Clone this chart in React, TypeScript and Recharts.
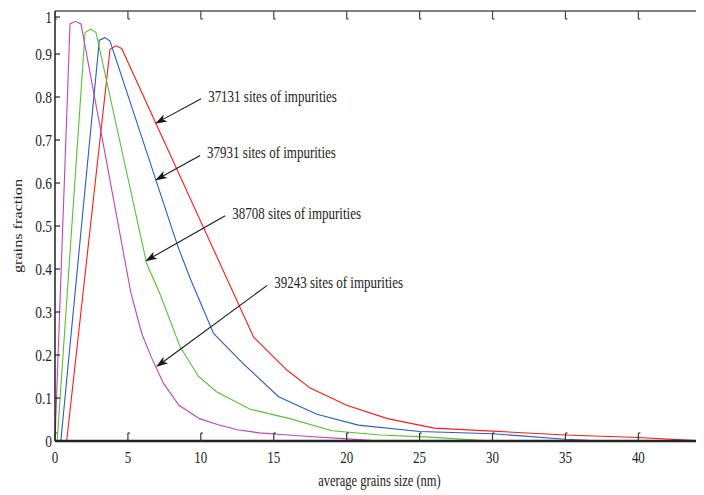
import React from 'react';
import { LineChart, Line, XAxis, YAxis, ReferenceLine } from 'recharts';

const FONT = '"Liberation Serif", "Times New Roman", serif';

const xTicks = [0, 5, 10, 15, 20, 25, 30, 35, 40];
const yTicks = [0, 0.1, 0.2, 0.3, 0.4, 0.5, 0.6, 0.7, 0.8, 0.9, 1];

// [grain size (nm), grains fraction]
const sites37131: [number, number][] = [
  [0, 0], [0.8, 0], [3.77, 0.911], [4.19, 0.919], [4.57, 0.913], [13.61, 0.242],
  [15.9, 0.165], [17.5, 0.123], [20, 0.083], [22.8, 0.052], [26, 0.03], [30, 0.023],
  [35, 0.014], [40, 0.008], [44.4, 0],
];
const sites37931: [number, number][] = [
  [0, 0], [0.4, 0], [3.04, 0.932], [3.43, 0.938], [3.77, 0.93], [8.4, 0.455],
  [9.27, 0.378], [10.87, 0.25], [12.9, 0.18], [15.33, 0.103], [17.96, 0.062],
  [20.8, 0.037], [25, 0.022], [30, 0.017], [35, 0.004], [37.5, 0],
];
const sites38708: [number, number][] = [
  [0, 0], [0.15, 0], [2.06, 0.95], [2.45, 0.958], [2.81, 0.95], [6.29, 0.412],
  [7.2, 0.342], [8.58, 0.219], [9.84, 0.15], [11.1, 0.114], [13.38, 0.074],
  [16.1, 0.052], [19, 0.024], [22.3, 0.014], [25.7, 0.009], [29.9, 0],
];
const sites39243: [number, number][] = [
  [0, 0], [1.03, 0.97], [1.42, 0.976], [1.78, 0.97], [5.2, 0.345], [5.95, 0.25],
  [6.6, 0.195], [7.44, 0.134], [8.5, 0.083], [9.9, 0.052], [11.2, 0.038],
  [12.5, 0.026], [14, 0.019], [15.5, 0.015], [17.7, 0.01], [20, 0.005], [22.3, 0],
];

const annotations = [
  { label: '37131 sites of impurities', from: [10.02, 0.796], to: [6.86, 0.738] },
  { label: '37931 sites of impurities', from: [9.95, 0.664], to: [6.86, 0.606] },
  { label: '38708 sites of impurities', from: [11.67, 0.524], to: [6.18, 0.418] },
  { label: '39243 sites of impurities', from: [14.55, 0.362], to: [6.93, 0.172] },
];

const toRows = (pts: [number, number][]) => pts.map(([x, y]) => ({ x, y }));

const series = [
  { name: '37131', data: toRows(sites37131), color: '#ff1a1a' },
  { name: '37931', data: toRows(sites37931), color: '#2a5cc4' },
  { name: '38708', data: toRows(sites38708), color: '#55c034' },
  { name: '39243', data: toRows(sites39243), color: '#c443b0' },
];

const STRETCH = 1.3;

const BottomTick = (p: any) => {
  const { x, y, payload } = p;
  return (
    <g>
      <line x1={x} y1={y} x2={x} y2={y - 8} stroke="#333" strokeWidth={1.2} />
      <line x1={x} y1={y - 8} x2={x + 2} y2={y - 8} stroke="#333" strokeWidth={1.2} />
      <text
        transform={`translate(${x},${y + 16}) scale(1,${STRETCH})`}
        textAnchor="middle"
        dy="0.35em"
        fontSize={13}
        fontFamily={FONT}
        fill="#222"
      >
        {payload.value}
      </text>
    </g>
  );
};

const TopTick = (p: any) => {
  const { x, y } = p;
  return (
    <g>
      <line x1={x} y1={y} x2={x} y2={y + 8} stroke="#444" strokeWidth={1.2} />
      <line x1={x} y1={y + 8} x2={x + 2} y2={y + 8} stroke="#444" strokeWidth={1.2} />
    </g>
  );
};

const LeftTick = (p: any) => {
  const { x, y, payload } = p;
  return (
    <g>
      <line x1={x} y1={y} x2={x + 5} y2={y} stroke="#222" strokeWidth={1.2} />
      <text
        transform={`translate(${x - 3},${y}) scale(1,${STRETCH})`}
        textAnchor="end"
        dy="0.35em"
        fontSize={13.5}
        fontFamily={FONT}
        fill="#222"
      >
        {payload.value}
      </text>
    </g>
  );
};

const XTitle = (p: any) => {
  const vb = p.viewBox || {};
  return (
    <text
      transform={`translate(${vb.x + vb.width / 2},${vb.y + 39}) scale(1,${STRETCH})`}
      textAnchor="middle"
      dy="0.35em"
      fontSize={12.5}
      fontFamily={FONT}
      fill="#222"
    >
      average grains size (nm)
    </text>
  );
};

const YTitle = (p: any) => {
  const vb = p.viewBox || {};
  return (
    <text
      transform={`translate(${vb.x + 10},${vb.y + vb.height / 2}) scale(1,${STRETCH}) rotate(-90)`}
      textAnchor="middle"
      dy="0.35em"
      fontSize={12.5}
      fontFamily={FONT}
      fill="#222"
    >
      grains fraction
    </text>
  );
};

const makeArrow = (label: string) => (p: any) => {
  const { x1, y1, x2, y2 } = p;
  const dx = x2 - x1;
  const dy = y2 - y1;
  const len = Math.hypot(dx, dy) || 1;
  const ux = dx / len;
  const uy = dy / len;
  const hl = 12;
  const hw = 4;
  const bx = x2 - ux * hl;
  const by = y2 - uy * hl;
  const nx = x2 - ux * (hl - 3);
  const ny = y2 - uy * (hl - 3);
  const pts = `${x2},${y2} ${bx - uy * hw},${by + ux * hw} ${nx},${ny} ${bx + uy * hw},${by - ux * hw}`;
  return (
    <g>
      <line x1={x1} y1={y1} x2={nx} y2={ny} stroke="#1a1a1a" strokeWidth={1.1} />
      <polygon points={pts} fill="#1a1a1a" />
      <text
        transform={`translate(${x1 + 7},${y1 - 3}) scale(1,${STRETCH})`}
        textAnchor="start"
        dy="0.35em"
        fontSize={13}
        fontFamily={FONT}
        fill="#222"
      >
        {label}
      </text>
    </g>
  );
};

export default function App() {
  return (
    <LineChart width={700} height={487} margin={{ top: 2, right: 4, left: 0, bottom: 0 }}>
      <XAxis
        dataKey="x"
        type="number"
        domain={[0, 44.5]}
        ticks={xTicks}
        allowDataOverflow
        height={54}
        tickSize={0}
        tickMargin={0}
        tickLine={false}
        tick={BottomTick}
        axisLine={{ stroke: '#222', strokeWidth: 2.6 }}
        label={{ content: XTitle }}
      />
      <XAxis
        xAxisId="top"
        orientation="top"
        dataKey="x"
        type="number"
        domain={[0, 44.5]}
        ticks={xTicks}
        allowDataOverflow
        height={1}
        tickSize={0}
        tickMargin={0}
        tickLine={false}
        tick={TopTick}
        axisLine={{ stroke: '#555', strokeWidth: 1.4 }}
      />
      <YAxis
        type="number"
        domain={[0, 1]}
        ticks={yTicks}
        width={47}
        tickSize={0}
        tickMargin={0}
        tickLine={false}
        tick={LeftTick}
        axisLine={{ stroke: '#111', strokeWidth: 1.4 }}
        label={{ content: YTitle }}
      />
      {series.map((s) => (
        <Line
          key={s.name}
          data={s.data}
          dataKey="y"
          type="linear"
          stroke={s.color}
          strokeWidth={1.1}
          dot={false}
          isAnimationActive={false}
        />
      ))}
      {annotations.map((a) => (
        <ReferenceLine
          key={a.label}
          segment={[
            { x: a.from[0], y: a.from[1] },
            { x: a.to[0], y: a.to[1] },
          ]}
          ifOverflow="visible"
          shape={makeArrow(a.label)}
        />
      ))}
    </LineChart>
  );
}
